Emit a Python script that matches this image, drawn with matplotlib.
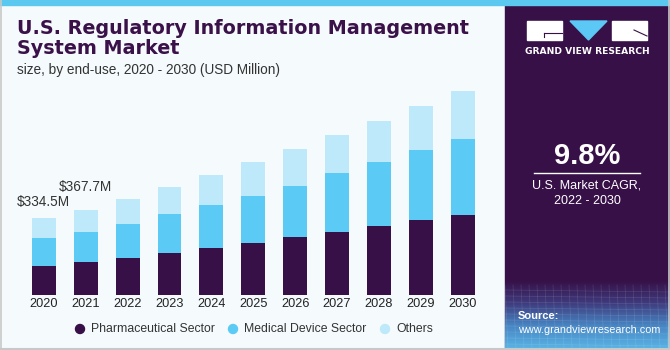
import numpy as np
import matplotlib.pyplot as plt
from matplotlib.patches import Rectangle, Polygon, Circle
from matplotlib.colors import LinearSegmentedColormap

# Data (USD Million)
years = ["2020", "2021", "2022", "2023", "2024", "2025", "2026", "2027", "2028", "2029", "2030"]
pharma = [127, 142, 160, 181, 202, 223, 249, 274, 298, 323, 347]
medical = [118, 131, 147, 167, 187, 204, 223, 254, 276, 302, 326]
others = [89.5, 94.7, 108, 117, 130, 147, 160, 164, 177, 193, 207]
series_names = ["Pharmaceutical Sector", "Medical Device Sector", "Others"]
labels = {0: "$334.5M", 1: "$367.7M"}

plt.rcParams["font.family"] = ["Liberation Sans", "DejaVu Sans"]

c_pharma = "#371047"
c_med = "#5BCBF5"
c_oth = "#BDE9FA"
bg = "#F5FAFD"
title_c = "#3A1149"

W, H = 670, 350
fig = plt.figure(figsize=(W / 100, H / 100), dpi=100)
fig.patch.set_facecolor(bg)

# overlay axes in pixel coords for decoration
deco = fig.add_axes([0, 0, 1, 1], zorder=0)
deco.set_xlim(0, W)
deco.set_ylim(H, 0)
deco.axis("off")

# right purple panel with gradient at bottom
deco.add_patch(Rectangle((505, 0), 165, 350, color=c_pharma, zorder=1))
grad = np.linspace(0, 1, 100).reshape(-1, 1)
cmap = LinearSegmentedColormap.from_list("g", [c_pharma, "#3E3A7C", "#4784C2", "#58B2E4"])
deco.imshow(grad, extent=(505, 670, 348, 280), cmap=cmap, aspect="auto", zorder=2)
# grid pattern hint
for yy in np.arange(290, 348, 6):
    deco.plot([505, 670], [yy, yy + 2], color="white", alpha=0.12, lw=0.5, zorder=3)
for xx in np.arange(505, 670, 8):
    deco.plot([xx, xx + 3], [285, 348], color="white", alpha=0.12, lw=0.5, zorder=3)

# top stripe and borders
deco.add_patch(Rectangle((0, 0), W, 5, color="#5BC8F0", zorder=4))
deco.plot([0.5, 0.5], [0, 350], color="#C8C8C8", lw=1.2, zorder=4)
deco.plot([0, 670], [348.5, 348.5], color="#C8C8C8", lw=1.5, zorder=4)
deco.plot([668.5, 668.5], [0, 350], color="#C8C8C8", lw=1.2, zorder=4)

# logo
deco.add_patch(Rectangle((527, 21), 35, 19, color="white", zorder=5))
deco.add_patch(Polygon([(570, 21), (607, 21), (588.5, 40)], color="#5BC8F5", zorder=5))
deco.add_patch(Rectangle((612, 21), 35, 19, color="white", zorder=5))
deco.plot([544, 562], [33, 33], color=c_pharma, lw=0.8, zorder=6)
deco.plot([544, 544], [33, 37], color=c_pharma, lw=0.8, zorder=6)
deco.plot([634, 647], [30, 36], color=c_pharma, lw=0.8, zorder=6)
deco.text(587, 52, "GRAND VIEW RESEARCH", color="white", fontsize=6.6, fontweight="bold",
          ha="center", va="center", zorder=6, family="DejaVu Sans")

# CAGR block
deco.text(587, 156, "9.8%", color="white", fontsize=21, fontweight="bold",
          ha="center", va="center", zorder=6)
deco.plot([534, 640], [173, 173], color="white", lw=1, zorder=6)
deco.text(587, 186, "U.S. Market CAGR,", color="white", fontsize=9,
          ha="center", va="center", zorder=6)
deco.text(587, 201, "2022 - 2030", color="white", fontsize=9,
          ha="center", va="center", zorder=6)
deco.text(518, 316, "Source:", color="white", fontsize=8, fontweight="bold",
          ha="left", va="center", zorder=6)
deco.text(518, 330, "www.grandviewresearch.com", color="white", fontsize=7.8,
          ha="left", va="center", zorder=6)

# titles
deco.text(17, 28, "U.S. Regulatory Information Management", color=title_c, fontsize=13.8,
          fontweight="heavy", ha="left", va="center", zorder=6, family="DejaVu Sans")
deco.text(17, 48, "System Market", color=title_c, fontsize=13.8,
          fontweight="heavy", ha="left", va="center", zorder=6, family="DejaVu Sans")
deco.text(17, 70, "size, by end-use, 2020 - 2030 (USD Million)", color="#333333", fontsize=9.8,
          ha="left", va="center", zorder=6)

# bar chart axes
ax = fig.add_axes([22 / W, 55 / H, 463 / W, 215 / H], zorder=2)
ax.patch.set_alpha(0)
x = np.arange(len(years))
bw = 0.57
p = np.array(pharma)
m = np.array(medical)
o = np.array(others)
ax.bar(x, p, bw, color=c_pharma, label=series_names[0])
ax.bar(x, m, bw, bottom=p, color=c_med, label=series_names[1])
ax.bar(x, o, bw, bottom=p + m, color=c_oth, label=series_names[2])
ax.set_xlim(-0.52, 10.53)
ax.set_ylim(0, 929)
ax.set_yticks([])
ax.set_xticks(x)
ax.set_xticklabels(years, fontsize=9.2, color="#222222")
ax.tick_params(axis="x", length=0, pad=2)
for s in ax.spines.values():
    s.set_visible(False)

totals = p + m + o
ax.annotate(labels[0], (x[0] - 0.64, totals[0]), xytext=(0, 8), textcoords="offset points",
            fontsize=9.8, color="#333333", ha="left", va="baseline", annotation_clip=False)
ax.annotate(labels[1], (x[1] - 0.64, totals[1]), xytext=(0, 13.5), textcoords="offset points",
            fontsize=9.8, color="#333333", ha="left", va="baseline", annotation_clip=False)

# legend
leg_items = [(80, c_pharma, series_names[0]), (233, c_med, series_names[1]), (385, c_oth, series_names[2])]
for lx, col, name in leg_items:
    deco.add_patch(Circle((lx, 329), 4.5, color=col, zorder=6))
    deco.text(lx + 11, 329, name, fontsize=8.8, color="#333333", ha="left", va="center", zorder=6)

fig.savefig("out.png", dpi=100, facecolor=fig.get_facecolor())
